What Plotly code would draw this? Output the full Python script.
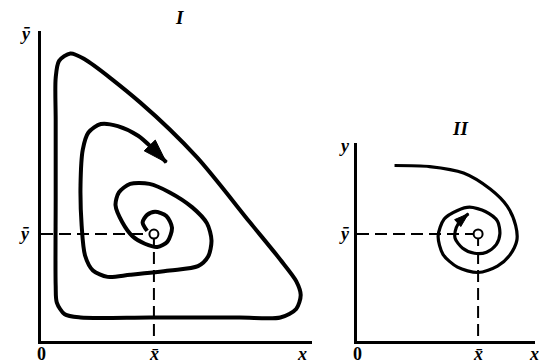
import plotly.graph_objects as go

# Equilibrium point (x̄, ȳ) in the units of both phase planes
x_eq = 1.0
y_eq = 1.0

# Panel I: closed outer cycle (triangular orbit)
cycle_x = [0.13, 0.13, 0.13, 0.16, 0.26, 0.38, 0.88, 1.38, 1.85,
           2.12, 2.26, 2.30, 2.26, 2.12, 1.76, 0.96, 0.35, 0.21, 0.14, 0.13, 0.13]
cycle_y = [1.32, 2.07, 2.46, 2.62, 2.69, 2.64, 2.23, 1.72, 1.11,
           0.76, 0.56, 0.43, 0.30, 0.22, 0.22, 0.22, 0.22, 0.25, 0.36, 0.52, 1.32]

# Panel I: trajectory unwinding from the equilibrium outwards
spiral1_x = [0.94, 0.90, 0.94, 1.01, 1.11, 1.16, 1.12, 1.03, 0.92, 0.81, 0.72, 0.66,
             0.69, 0.79, 0.96, 1.14, 1.34, 1.47, 1.51, 1.48, 1.39, 1.14, 0.79, 0.59,
             0.46, 0.39, 0.36, 0.35, 0.37, 0.42, 0.53, 0.68, 0.86, 0.99, 1.11]
spiral1_y = [1.03, 1.11, 1.18, 1.21, 1.17, 1.06, 0.93, 0.88, 0.91, 0.98, 1.11, 1.27,
             1.39, 1.47, 1.47, 1.39, 1.25, 1.10, 0.94, 0.79, 0.70, 0.66, 0.62, 0.60,
             0.66, 0.80, 1.08, 1.46, 1.79, 1.95, 2.03, 2.01, 1.92, 1.80, 1.67]

# Panel II: trajectory winding into the equilibrium
spiral2_x = [0.31, 0.60, 0.88, 1.10, 1.24, 1.31, 1.32, 1.26, 1.16, 1.00, 0.83, 0.71,
             0.67, 0.72, 0.83, 0.93, 1.06, 1.16, 1.18, 1.15, 1.07, 0.97, 0.87, 0.81,
             0.82, 0.86, 0.92]
spiral2_y = [1.64, 1.63, 1.57, 1.42, 1.26, 1.08, 0.94, 0.80, 0.70, 0.64, 0.69, 0.81,
             0.98, 1.14, 1.22, 1.25, 1.21, 1.12, 1.00, 0.90, 0.83, 0.82, 0.87, 0.96,
             1.06, 1.13, 1.19]

# Axis extents and panel titles
panel1_xmax, panel1_ymax = 2.4, 2.9
panel2_xmax, panel2_ymax = 1.47, 1.85
panel_titles = ["I", "II"]

W, H = 540, 363
INK = "black"
SERIF = "Liberation Serif"

fig = go.Figure()


def add_panel(xa, ya, curves, width):
    for cx, cy in curves:
        fig.add_trace(go.Scatter(
            x=cx, y=cy, xaxis=xa, yaxis=ya, mode="lines",
            line=dict(color=INK, width=width, shape="spline", smoothing=0.8),
            hoverinfo="skip", showlegend=False))
    # dashed guides from the axes to the equilibrium
    fig.add_trace(go.Scatter(
        x=[0, x_eq], y=[y_eq, y_eq], xaxis=xa, yaxis=ya, mode="lines",
        line=dict(color=INK, width=2, dash="12px,6px"),
        hoverinfo="skip", showlegend=False))
    fig.add_trace(go.Scatter(
        x=[x_eq, x_eq], y=[y_eq, 0], xaxis=xa, yaxis=ya, mode="lines",
        line=dict(color=INK, width=2, dash="12px,6px"),
        hoverinfo="skip", showlegend=False))
    # equilibrium point
    fig.add_trace(go.Scatter(
        x=[x_eq], y=[y_eq], xaxis=xa, yaxis=ya, mode="markers",
        marker=dict(symbol="circle", size=9, color="white",
                    line=dict(color=INK, width=2)),
        hoverinfo="skip", showlegend=False))


def add_arrow(xa, ya, cx, cy, size):
    # arrowhead on the final point, oriented along the last segment
    fig.add_trace(go.Scatter(
        x=[cx[-1]], y=[cy[-1]], xaxis=xa, yaxis=ya, mode="markers",
        opacity=1,
        marker=dict(symbol="arrow", angleref="previous", size=size,
                    color=INK, opacity=1, line=dict(color=INK, width=1)),
        hoverinfo="skip", showlegend=False))
    fig.data[-1].update(x=cx[-2:], y=cy[-2:],
                        marker=dict(size=[0, size]))


add_panel("x", "y", [(cycle_x, cycle_y), (spiral1_x, spiral1_y)], 4)
add_arrow("x", "y", spiral1_x, spiral1_y, 25)
add_panel("x2", "y2", [(spiral2_x, spiral2_y)], 3.2)
add_arrow("x2", "y2", spiral2_x, spiral2_y, 15)

axis_common = dict(showgrid=False, zeroline=False, showticklabels=False, ticks="",
                   showline=True, linecolor=INK, linewidth=3)

fig.update_layout(
    width=W, height=H,
    margin=dict(l=0, r=0, t=0, b=0),
    paper_bgcolor="white", plot_bgcolor="white",
    xaxis=dict(domain=[41 / W, 312 / W], range=[0, panel1_xmax], anchor="y", **axis_common),
    yaxis=dict(domain=[1 - 341 / H, 1 - 31 / H], range=[0, panel1_ymax], anchor="x", **axis_common),
    xaxis2=dict(domain=[357 / W, 535 / W], range=[0, panel2_xmax], anchor="y2", **axis_common),
    yaxis2=dict(domain=[1 - 341 / H, 1 - 143 / H], range=[0, panel2_ymax], anchor="x2", **axis_common),
)

XBAR = "x\u0304"
YBAR = "y\u0304"


def label(text, xref, yref, x, y, xanchor="center", yanchor="middle", xs=0, ys=0,
          size=18, italic=True):
    t = f"<b><i>{text}</i></b>" if italic else f"<b>{text}</b>"
    fig.add_annotation(text=t, x=x, y=y, xref=xref, yref=yref, showarrow=False,
                       xanchor=xanchor, yanchor=yanchor, xshift=xs, yshift=ys,
                       font=dict(family=SERIF, size=size, color=INK))


# panel I labels
label("0", "x", "y", 0, 0, yanchor="top", ys=-1, italic=False)
label(XBAR, "x", "y", x_eq, 0, yanchor="top", ys=-1)
label("x", "x", "y", 2.31, 0, yanchor="top", ys=-1)
label(YBAR, "x", "y", 0, 2.87, xanchor="right", xs=-8)
label(YBAR, "x", "y", 0, y_eq, xanchor="right", xs=-9)
label(panel_titles[0], "x", "y", 1.23, panel1_ymax, ys=13, size=19)

# panel II labels
label("0", "x2", "y2", 0, 0, yanchor="top", ys=-1, italic=False)
label(XBAR, "x2", "y2", x_eq, 0, yanchor="top", ys=-1)
label("x", "x2", "y2", 1.46, 0, yanchor="top", ys=-1)
label("y", "x2", "y2", 0, 1.82, xanchor="right", xs=-5)
label(YBAR, "x2", "y2", 0, y_eq, xanchor="right", xs=-5)
label(panel_titles[1], "x2", "y2", 0.85, panel2_ymax, ys=15, size=19)

fig.write_html("out.html")
